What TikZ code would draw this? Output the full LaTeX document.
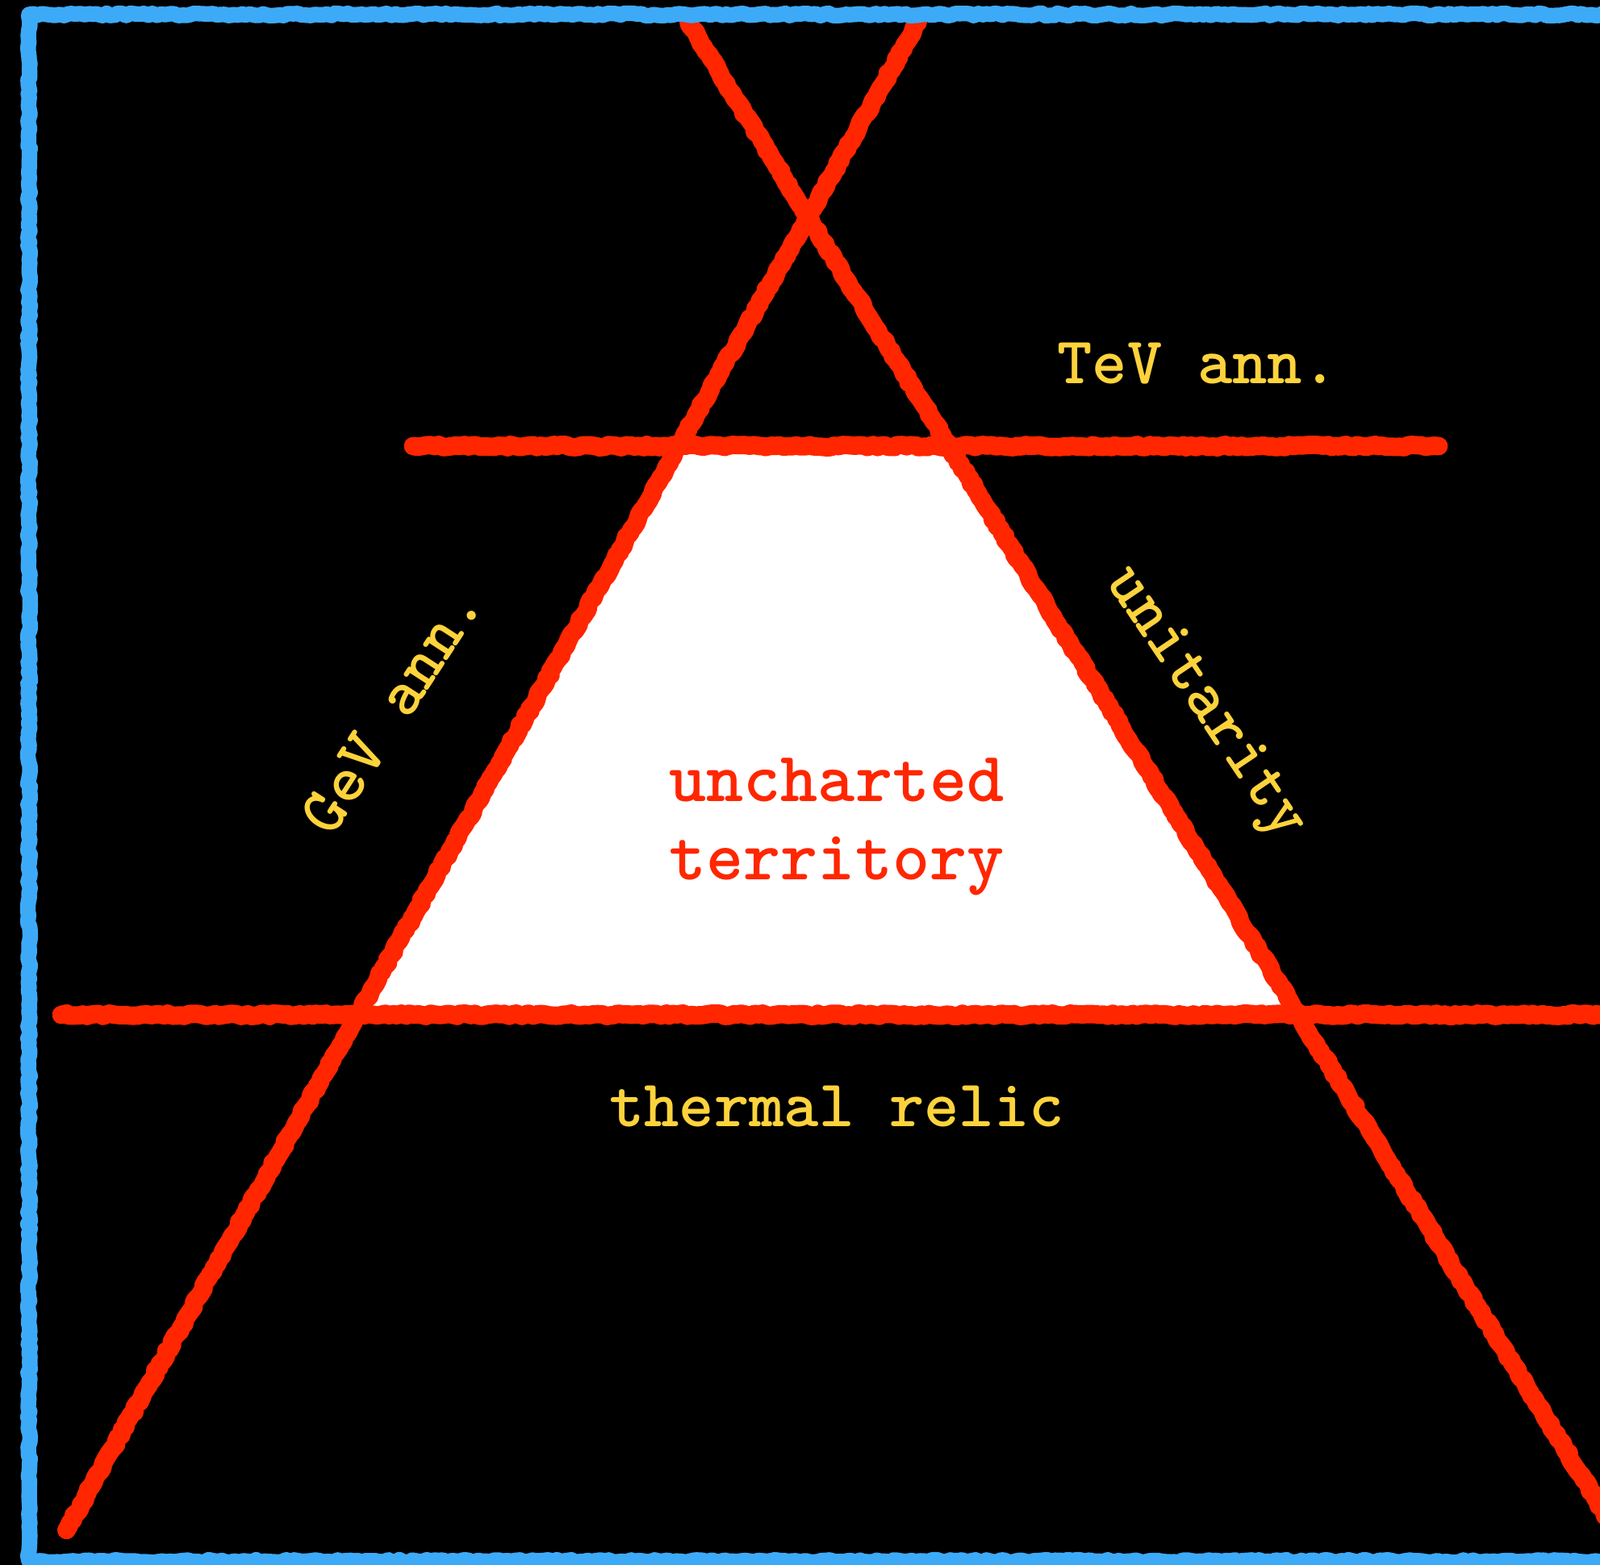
\documentclass[tikz,border=0pt]{standalone}
\usetikzlibrary{calc,decorations.pathmorphing}
\definecolor{chalkred}{HTML}{FF2600}
\definecolor{chalkyellow}{HTML}{FDD33C}
\definecolor{chalkblue}{HTML}{3DAAF8}
\tikzstyle{chalk}=[line width=6.5pt, chalkred, line cap=round, line join=round, decorate, decoration={random steps, segment length=1.5pt, amplitude=0.45pt}]
\tikzstyle{frame}=[chalk, chalkblue, line width=5.5pt]
\tikzstyle{lbl}=[chalkyellow, font=\ttfamily\bfseries\fontsize{23.5}{27}\selectfont]

\begin{document}
\begin{tikzpicture}
\useasboundingbox (0,0) rectangle (19.83,19.40);
\clip (0,0) rectangle (19.83,19.40);
\fill[black] (0,0) rectangle (19.83,19.40);
\coordinate (tl) at (8.41,13.87);
\coordinate (tr) at (11.76,13.87);
\coordinate (bl) at (4.43,6.82);
\coordinate (br) at (16.09,6.82);
\coordinate (gevS) at ($(tl)!1.906!(bl)$);
\coordinate (gevN) at ($(bl)!1.745!(tl)$);
\coordinate (uniN) at ($(br)!1.745!(tr)$);
\coordinate (uniS) at ($(tr)!2.0!(br)$);
\coordinate (tevW) at (5.12,13.87);
\coordinate (tevE) at (17.83,13.87);
\coordinate (relW) at (0.76,6.82);
\coordinate (relE) at (20.2,6.82);
\fill[white] (tl)--(tr)--(br)--(bl)--cycle;
\draw[chalk](gevS)--(gevN);
\draw[chalk](uniN)--(uniS);
\draw[chalk](tevW)--(tevE);
\draw[chalk](relW)--(relE);
\draw[frame](0.36,0.05) rectangle (20.2,19.22);
\node[lbl] (tev) at (14.84,14.89) {TeV ann.};
\node[lbl, rotate=57] (gev) at (4.85,10.60) {GeV ann.};
\node[lbl, rotate=-56] (uni) at (14.92,10.67) {unitarity};
\node[lbl] (relic) at (10.37,5.68) {thermal relic};
\node[lbl, chalkred, font=\ttfamily\bfseries\fontsize{25}{27.5}\selectfont, align=center] (terra) at (10.37,9.15) {uncharted\\territory};
\end{tikzpicture}
\end{document}
